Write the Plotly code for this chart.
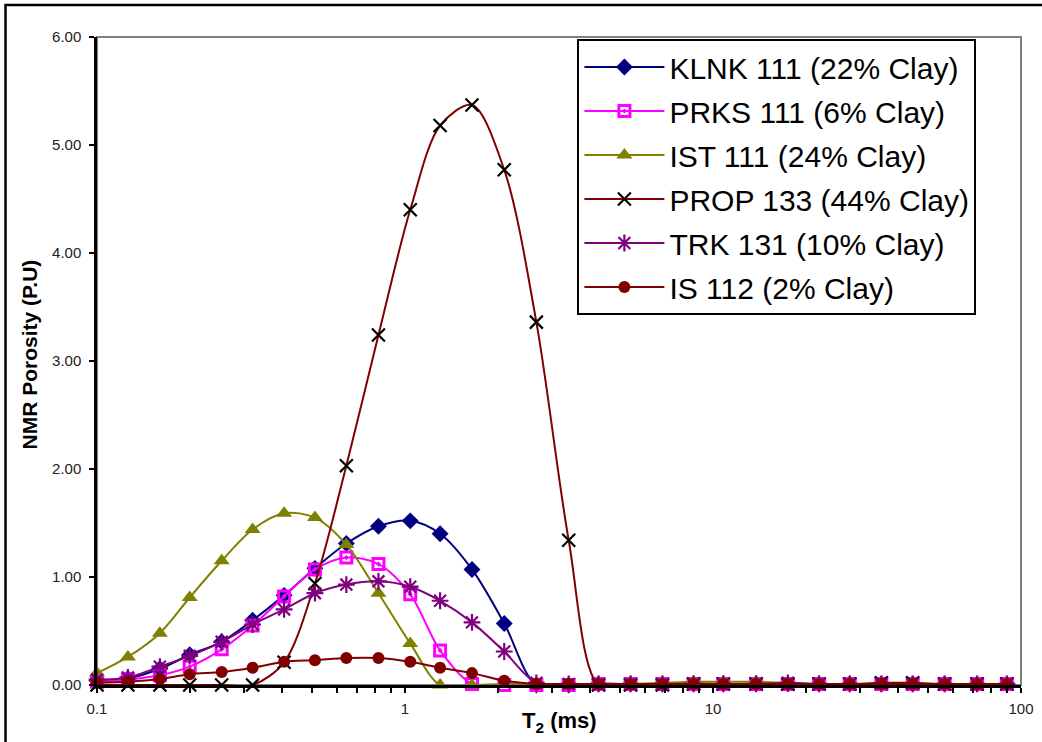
import plotly.graph_objects as go

# T2 bin values (ms)
t2 = [0.1, 0.126, 0.16, 0.2, 0.254, 0.32, 0.405, 0.51, 0.645, 0.82,
      1.04, 1.3, 1.65, 2.1, 2.67, 3.4, 4.25, 5.4, 6.85, 8.65,
      10.8, 13.8, 17.5, 22.1, 27.8, 35.2, 44.5, 56.5, 72, 90]

klnk_111 = [0.04, 0.06, 0.15, 0.28, 0.40, 0.60, 0.83, 1.08, 1.31, 1.47,
            1.52, 1.40, 1.07, 0.57, 0.00, 0.00, 0.01, 0.01, 0.01, 0.01,
            0.01, 0.01, 0.01, 0.01, 0.01, 0.01, 0.01, 0.01, 0.01, 0.01]
prks_111 = [0.03, 0.05, 0.09, 0.17, 0.33, 0.55, 0.82, 1.07, 1.18, 1.12,
            0.84, 0.32, 0.01, 0.00, 0.00, 0.00, 0.01, 0.01, 0.01, 0.01,
            0.01, 0.01, 0.01, 0.01, 0.01, 0.01, 0.01, 0.01, 0.01, 0.01]
ist_111 = [0.11, 0.26, 0.48, 0.81, 1.15, 1.44, 1.59, 1.55, 1.30, 0.85,
           0.385, 0.00, 0.00, 0.01, 0.01, 0.01, 0.01, 0.01, 0.02, 0.03,
           0.03, 0.03, 0.02, 0.01, 0.01, 0.01, 0.01, 0.01, 0.01, 0.01]
prop_133 = [0.00, 0.00, 0.00, 0.00, 0.00, 0.00, 0.21, 0.94, 2.03, 3.24,
            4.40, 5.18, 5.37, 4.77, 3.36, 1.34, 0.00, 0.00, 0.00, 0.01,
            0.01, 0.01, 0.01, 0.01, 0.01, 0.02, 0.02, 0.01, 0.01, 0.01]
trk_131 = [0.05, 0.07, 0.17, 0.27, 0.40, 0.56, 0.70, 0.85, 0.93, 0.96,
           0.91, 0.78, 0.58, 0.31, 0.02, 0.01, 0.01, 0.01, 0.01, 0.01,
           0.01, 0.01, 0.02, 0.01, 0.01, 0.01, 0.01, 0.01, 0.01, 0.01]
is_112 = [0.02, 0.03, 0.055, 0.10, 0.12, 0.16, 0.215, 0.23, 0.25, 0.25,
          0.215, 0.16, 0.11, 0.04, 0.01, 0.01, 0.01, 0.01, 0.01, 0.01,
          0.01, 0.01, 0.01, 0.01, 0.01, 0.01, 0.01, 0.01, 0.01, 0.01]

names = ["KLNK 111 (22% Clay)", "PRKS 111 (6% Clay)", "IST 111 (24% Clay)",
         "PROP 133 (44% Clay)", "TRK 131 (10% Clay)", "IS 112 (2% Clay)"]
series = [klnk_111, prks_111, ist_111, prop_133, trk_131, is_112]
line_colors = ["#000080", "#FF00FF", "#808000", "#800000", "#800080", "#800000"]
markers = [
    dict(symbol="diamond", size=13, color="#000080", line=dict(width=0)),
    dict(symbol="square-open-dot", size=11, color="#FF00FF", line=dict(width=3, color="#FF00FF")),
    dict(symbol="triangle-up", size=14, color="#808000", line=dict(width=0)),
    dict(symbol="x-thin", size=13, color="black", line=dict(width=2.2, color="black")),
    dict(symbol="asterisk", size=14, color="#800080", line=dict(width=2.2, color="#800080")),
    dict(symbol="circle", size=12, color="#800000", line=dict(width=0)),
]

fig = go.Figure()
for i, (nm, ys, lc, mk) in enumerate(zip(names, series, line_colors, markers)):
    fig.add_trace(go.Scatter(
        x=t2, y=ys, name=nm, mode="lines+markers",
        line=dict(color=lc, width=2, shape="spline", smoothing=0.9),
        marker=mk, cliponaxis=False, legendgroup=f"g{i}",
    ))

W, H = 1042, 742
L, R, T, B = 96.5, 21.3, 37, 57
pw, ph = W - L - R, H - T - B

def px_x(p):
    return (p - L) / pw

def px_y(p):
    return (H - B - p) / ph

font_family = "Liberation Sans, Arial, sans-serif"

minor_vals = []
for dec in [0.1, 1, 10]:
    for k in range(2, 10):
        minor_vals.append(dec * k)

fig.update_layout(
    width=W, height=H,
    margin=dict(l=L, r=R, t=T, b=B, autoexpand=False),
    paper_bgcolor="white", plot_bgcolor="white",
    font=dict(family=font_family, color="#222222", size=15),
    showlegend=True,
    legend=dict(
        x=px_x(577), y=px_y(39), xanchor="left", yanchor="top",
        bordercolor="black", borderwidth=2, bgcolor="white",
        font=dict(size=30, color="black", family=font_family),
        traceorder="grouped", tracegroupgap=2, itemwidth=80,
    ),
    xaxis=dict(
        type="log", range=[-1, 2],
        tickvals=[0.1, 1, 10, 100], ticktext=["0.1", "1", "10", "100"],
        ticks="outside", ticklen=5, tickwidth=2, tickcolor="black",
        showline=True, linecolor="black", linewidth=2.5,
        showgrid=False, zeroline=False, ticklabelstandoff=3,
        minor=dict(tickvals=minor_vals, ticks="outside", ticklen=5,
                   tickwidth=2, tickcolor="black", showgrid=False),
        tickfont=dict(size=15),
    ),
    yaxis=dict(
        range=[0, 6], tickvals=[0, 1, 2, 3, 4, 5, 6], tickformat=".2f",
        ticks="outside", ticklen=5, tickwidth=2, tickcolor="black",
        showline=True, linecolor="black", linewidth=2.5,
        showgrid=False, zeroline=False, ticklabelstandoff=5,
        tickfont=dict(size=15),
    ),
    shapes=[
        dict(type="rect", xref="paper", yref="paper", x0=0, x1=1, y0=0, y1=1,
             line=dict(color="#808080", width=2), layer="below"),
        dict(type="rect", xref="paper", yref="paper",
             x0=px_x(5), x1=px_x(1046), y0=px_y(746), y1=px_y(5),
             line=dict(color="black", width=2.5), layer="above"),
    ],
    annotations=[
        dict(text="<b>T<sub>2</sub> (ms)</b>", xref="paper", yref="paper",
             x=0.5, y=px_y(722), xanchor="center", yanchor="middle",
             showarrow=False, font=dict(size=22, color="black", family=font_family)),
        dict(text="<b>NMR Porosity (P.U)</b>", xref="paper", yref="paper",
             x=px_x(28), y=px_y(355), xanchor="center", yanchor="middle",
             textangle=-90, showarrow=False,
             font=dict(size=21, color="black", family=font_family)),
    ],
)

fig.write_html("out.html", config={"displayModeBar": False},
               post_script="document.body.style.margin='0';document.body.style.padding='0';")
